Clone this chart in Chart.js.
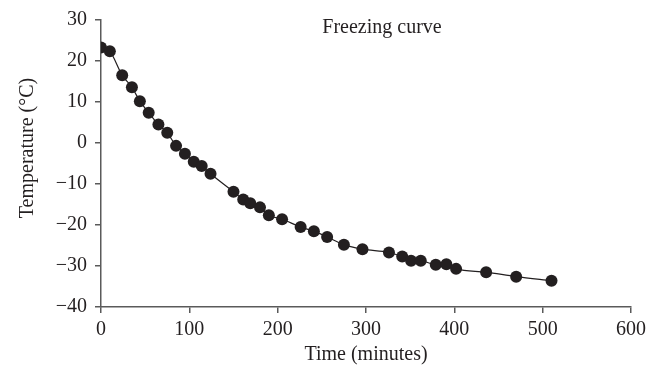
<!DOCTYPE html>
<html>
<head>
<meta charset="utf-8">
<script src="https://cdn.jsdelivr.net/npm/chart.js@4/dist/chart.umd.min.js"></script>
<style>
  html, body { margin: 0; padding: 0; background: #ffffff; }
  #wrap { width: 657px; height: 365px; }
</style>
</head>
<body>
<div id="wrap"><canvas id="freezeChart" width="657" height="365"></canvas></div>
<script>
// time in minutes, temperature in degrees C
let timeMinutes = [0, 10, 24, 35, 44, 54, 65, 75, 85, 95, 105, 114, 124, 150, 161, 169, 180, 190, 205, 226, 241, 256, 275, 296, 326, 341, 351, 362, 379, 391, 402, 436, 470, 510];
let temperatures = [23.3, 22.4, 16.5, 13.6, 10.2, 7.4, 4.5, 2.5, -0.7, -2.6, -4.6, -5.6, -7.5, -11.9, -13.8, -14.7, -15.7, -17.6, -18.6, -20.5, -21.5, -22.9, -24.8, -25.9, -26.7, -27.7, -28.7, -28.7, -29.7, -29.6, -30.7, -31.5, -32.6, -33.6];

let chartTitle = "Freezing curve";
let xAxisTitle = "Time (minutes)";
let yAxisTitle = "Temperature (\u00B0C)";

let inkColor = "#231f20";
let axisColor = "#5a5a5a";
let serif = "'Liberation Serif', 'Times New Roman', serif";

let points = [];
timeMinutes.forEach((t, i) => {
    points.push({x: t, y: temperatures[i]});
});

// title inside the plot and the rotated y label sit off-centre in the original
const textPlugin = {
    id: "freeTexts",
    afterDraw(chart) {
        const ctx = chart.ctx;
        const area = chart.chartArea;
        ctx.save();
        ctx.fillStyle = inkColor;
        ctx.font = "20px " + serif;
        ctx.textAlign = "center";
        ctx.textBaseline = "middle";
        ctx.fillText(chartTitle, area.left + 281, area.top + 8);

        ctx.translate(28, 148);
        ctx.rotate(-Math.PI / 2);
        ctx.fillText(yAxisTitle, 0, 0);
        ctx.restore();
    }
};

new Chart("freezeChart", {
    type: "scatter",
    data: {
        datasets: [{
            data: points,
            showLine: true,
            borderColor: inkColor,
            borderWidth: 1.2,
            cubicInterpolationMode: "monotone",
            pointRadius: 6,
            pointHoverRadius: 6,
            pointBackgroundColor: inkColor,
            pointBorderWidth: 0
        }]
    },
    options: {
        responsive: false,
        animation: false,
        layout: {
            padding: {top: 20, right: 26, bottom: 0, left: 0}
        },
        plugins: {
            legend: { display: false },
            title: { display: false },
            tooltip: { enabled: false }
        },
        scales: {
            x: {
                type: "linear",
                min: 0,
                max: 600,
                afterFit: scale => { scale.height = 58; },
                border: { display: true, color: axisColor, width: 1.5 },
                grid: { drawOnChartArea: false, drawTicks: true, tickLength: 6, color: axisColor, lineWidth: 1.5 },
                ticks: {
                    stepSize: 100,
                    padding: 5,
                    color: inkColor,
                    font: { family: serif, size: 20 }
                },
                title: {
                    display: true,
                    text: xAxisTitle,
                    color: inkColor,
                    padding: 0,
                    font: { family: serif, size: 20, lineHeight: 1 }
                }
            },
            y: {
                type: "linear",
                min: -40,
                max: 30,
                afterFit: scale => { scale.width = 101; },
                border: { display: true, color: axisColor, width: 1.5 },
                grid: { drawOnChartArea: false, drawTicks: true, tickLength: 6, color: axisColor, lineWidth: 1.5 },
                ticks: {
                    stepSize: 10,
                    padding: 8,
                    color: inkColor,
                    font: { family: serif, size: 20 },
                    callback: v => (v < 0 ? "\u2212" + Math.abs(v) : "" + v)
                }
            }
        }
    },
    plugins: [textPlugin]
});
</script>
</body>
</html>
